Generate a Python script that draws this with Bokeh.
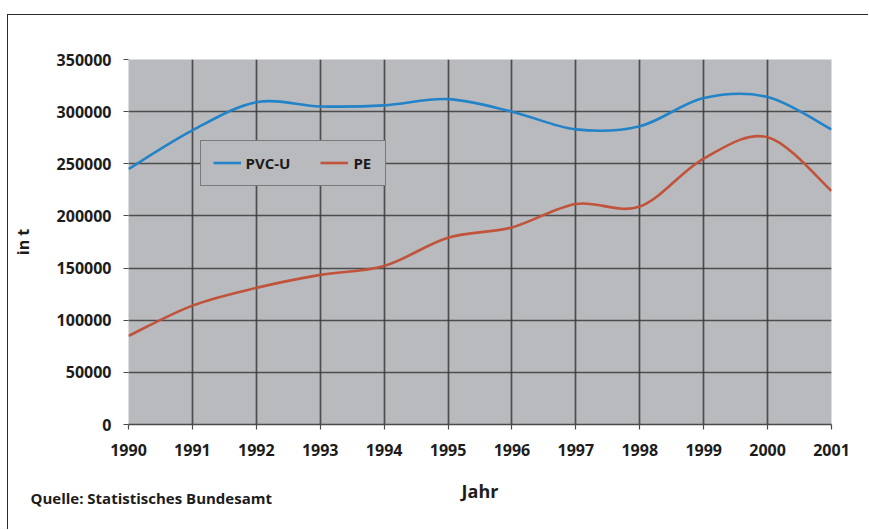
from bokeh.plotting import figure
from bokeh.models import (Range1d, FixedTicker, Legend, LegendItem, Title,
                          ColumnDataSource)
from bokeh.embed import file_html
from bokeh.resources import INLINE

years = [1990, 1991, 1992, 1993, 1994, 1995, 1996, 1997, 1998, 1999, 2000, 2001]
pvc_u = [245000, 282000, 309000, 305000, 306000, 312000, 300000, 283000, 286000, 313000, 314000, 283000]
pe = [85000, 114000, 131000, 143500, 152000, 179000, 189000, 211500, 209000, 255000, 275500, 224000]
y_ticks = [0, 50000, 100000, 150000, 200000, 250000, 300000, 350000]

BG = "#b8babd"
GRID = "#3a3a3a"
TXT = "#1c1c1c"
BLUE = "#2383c8"
RED = "#c2533b"
FONT = "Open Sans"


def smooth_segments(xs, ys, k=6.0):
    n = len(xs)
    d = dict(x0=[], y0=[], x1=[], y1=[], cx0=[], cy0=[], cx1=[], cy1=[])
    for i in range(n - 1):
        xp, yp = (xs[i - 1], ys[i - 1]) if i > 0 else (xs[i], ys[i])
        xn, yn = (xs[i + 2], ys[i + 2]) if i + 2 < n else (xs[i + 1], ys[i + 1])
        d["x0"].append(xs[i]); d["y0"].append(ys[i])
        d["x1"].append(xs[i + 1]); d["y1"].append(ys[i + 1])
        d["cx0"].append(xs[i] + (xs[i + 1] - xp) / k)
        d["cy0"].append(ys[i] + (ys[i + 1] - yp) / k)
        d["cx1"].append(xs[i + 1] - (xn - xs[i]) / k)
        d["cy1"].append(ys[i + 1] - (yn - ys[i]) / k)
    return ColumnDataSource(d)


p = figure(width=861, height=515, output_backend="svg", toolbar_location=None,
           x_range=Range1d(1990, 2001), y_range=Range1d(0, 350000),
           min_border_left=120, min_border_right=38, min_border_top=44,
           min_border_bottom=106)
p.styles = {"border-top": "1.5px solid #2a2a2a", "border-left": "1.5px solid #2a2a2a",
            "margin-top": "13.5px", "margin-left": "6.5px"}
p.background_fill_color = BG
p.border_fill_color = "white"
p.outline_line_color = None

# grid
p.xgrid.ticker = FixedTicker(ticks=years[:-1])
p.ygrid.ticker = FixedTicker(ticks=y_ticks[1:-1])
for g in (p.xgrid, p.ygrid):
    g.grid_line_color = GRID
    g.grid_line_width = 1.7
    g.grid_line_alpha = 0.85

# axes
p.xaxis.ticker = FixedTicker(ticks=years)
p.yaxis.ticker = FixedTicker(ticks=y_ticks)
p.yaxis.formatter.use_scientific = False
for ax in (p.xaxis, p.yaxis):
    ax.axis_line_color = "#4a4a4a"
    ax.axis_line_width = 1.7
    ax.major_tick_line_color = "#4a4a4a"
    ax.major_tick_line_width = 1.2
    ax.major_tick_out = 5
    ax.major_tick_in = 0
    ax.minor_tick_line_color = None
    ax.major_label_text_font = FONT
    ax.major_label_text_font_style = "bold"
    ax.major_label_text_font_size = "16px"
    ax.major_label_text_color = TXT
    ax.axis_label_text_font = FONT
    ax.axis_label_text_font_style = "bold"
    ax.axis_label_text_color = TXT
p.yaxis.axis_line_color = None
p.yaxis.major_label_standoff = 12
p.xaxis.major_label_standoff = 14
p.yaxis.axis_label = "in t"
p.yaxis.axis_label_text_font_size = "16px"
p.yaxis.axis_label_standoff = 20
p.xaxis.axis_label = "Jahr"
p.xaxis.axis_label_text_font_size = "18px"
p.xaxis.axis_label_standoff = 20

# series
r_pvc = p.bezier(x0="x0", y0="y0", x1="x1", y1="y1", cx0="cx0", cy0="cy0",
                 cx1="cx1", cy1="cy1", source=smooth_segments(years, pvc_u),
                 line_color=BLUE, line_width=2.6)
r_pe = p.bezier(x0="x0", y0="y0", x1="x1", y1="y1", cx0="cx0", cy0="cy0",
                cx1="cx1", cy1="cy1", source=smooth_segments(years, pe),
                line_color=RED, line_width=2.6)

legend = Legend(items=[LegendItem(label="PVC-U", renderers=[r_pvc]),
                       LegendItem(label="PE", renderers=[r_pe])],
                orientation="horizontal", location=(72, 238))
legend.background_fill_color = BG
legend.background_fill_alpha = 1.0
legend.border_line_color = "#3a3a3a"
legend.border_line_width = 1.5
legend.padding = 12
legend.spacing = 30
legend.margin = 0
legend.glyph_width = 28
legend.glyph_height = 19
legend.label_height = 19
legend.label_standoff = 5
legend.label_text_font = FONT
legend.label_text_font_style = "bold"
legend.label_text_font_size = "15px"
legend.label_text_color = TXT
p.add_layout(legend, "center")

# source note
p.add_layout(Title(text="Quelle: Statistisches Bundesamt", align="left",
                   offset=-98, standoff=-36, vertical_align="top",
                   text_font=FONT, text_font_style="bold", text_font_size="15px",
                   text_color=TXT), "below")

open("out.html", "w").write(file_html(p, INLINE))
